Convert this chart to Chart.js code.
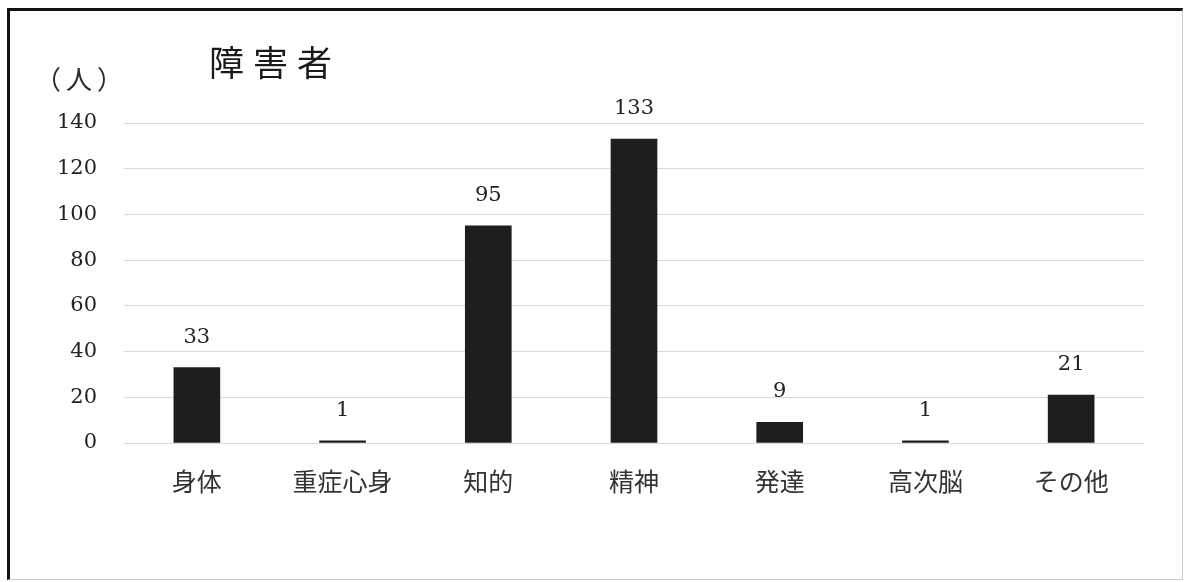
<!DOCTYPE html>
<html lang="ja">
<head>
<meta charset="utf-8">
<title>障害者</title>
<script src="https://cdn.jsdelivr.net/npm/chart.js@4.4.1/dist/chart.umd.min.js"></script>
<style>
  html, body { margin: 0; padding: 0; background: #fff; }
  #wrap { position: relative; width: 1184px; height: 582px; overflow: hidden; }
  #c { position: absolute; left: 0; top: 0; }
  #frame {
    position: absolute; left: 7px; top: 8px; width: 1176px; height: 572px;
    box-sizing: border-box;
    border-left: 3px solid #111; border-top: 3px solid #111;
    border-right: 1px solid #ccc; border-bottom: 1px solid #ccc;
    pointer-events: none;
  }
  #title {
    position: absolute; left: 209px; top: 43px;
    font-family: "Noto Sans CJK JP", sans-serif; font-size: 35px; line-height: 1;
    letter-spacing: 9px; color: #1a1a1a; font-weight: 400;
  }
  #unit {
    position: absolute; left: 35px; top: 65px;
    font-family: "Noto Sans CJK JP", sans-serif; font-size: 26px; line-height: 1;
    letter-spacing: 5px; color: #2a2a2a;
  }
</style>
</head>
<body>
<div id="wrap">
  <canvas id="c" width="1184" height="582"></canvas>
  <div id="frame"></div>
  <div id="title">障害者</div>
  <div id="unit">（人）</div>
</div>
<script>
// 障害種別ごとの人数
const categories = ["身体", "重症心身", "知的", "精神", "発達", "高次脳", "その他"];
const counts = [33, 1, 95, 133, 9, 1, 21];
const yTicks = [0, 20, 40, 60, 80, 100, 120, 140];

const serif = "'DejaVu Serif', 'Liberation Serif', serif";
const cjk = "'Noto Sans CJK JP', sans-serif";

// 各棒の上に人数を描く
const valueLabels = {
  id: "valueLabels",
  afterDatasetsDraw(chart) {
    const ctx = chart.ctx;
    const meta = chart.getDatasetMeta(0);
    ctx.save();
    ctx.font = "21px " + serif;
    ctx.fillStyle = "#222";
    ctx.textAlign = "center";
    ctx.textBaseline = "alphabetic";
    meta.data.forEach((bar, i) => {
      ctx.fillText(String(counts[i]), bar.x, bar.y - 25);
    });
    ctx.restore();
  }
};

new Chart(document.getElementById("c"), {
  type: "bar",
  data: {
    labels: categories,
    datasets: [{
      data: counts,
      backgroundColor: "#1e1e1e",
      borderWidth: 0,
      barThickness: 46
    }]
  },
  options: {
    responsive: false,
    animation: false,
    devicePixelRatio: 1,
    layout: { padding: { left: 0, top: 123, right: 40, bottom: 0 } },
    plugins: {
      legend: { display: false },
      tooltip: { enabled: false },
      title: { display: false }
    },
    scales: {
      x: {
        grid: { display: false },
        border: { display: false },
        ticks: {
          padding: 15,
          color: "#333",
          font: { family: cjk, size: 25 }
        },
        afterFit(scale) { scale.height = 139; }
      },
      y: {
        min: 0,
        max: 140,
        afterBuildTicks(scale) { scale.ticks = yTicks.map(v => ({ value: v })); },
        grid: { color: "#d9d9d9", lineWidth: 1, drawTicks: false },
        border: { display: false },
        ticks: {
          padding: 27,
          color: "#222",
          font: { family: serif, size: 21 }
        },
        afterFit(scale) { scale.width = 124; }
      }
    }
  },
  plugins: [valueLabels]
});
</script>
</body>
</html>
